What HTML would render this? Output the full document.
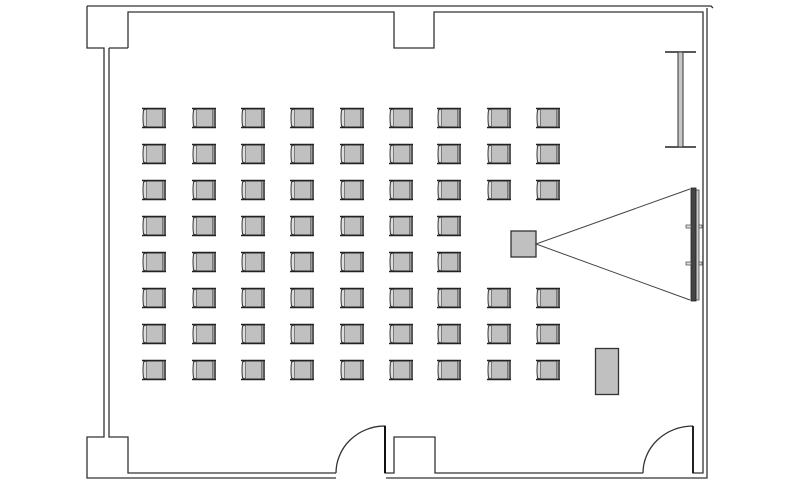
<!DOCTYPE html>
<html><head><style>html,body{margin:0;padding:0;background:#fff}svg{display:block}</style></head>
<body>
<svg width="800" height="490" viewBox="0 0 800 490" xmlns="http://www.w3.org/2000/svg">
<defs>
<g id="c">
<rect x="4" y="1" width="17" height="18" fill="#c0c0c0" stroke="#333" stroke-width="1"/>
<path d="M4 1 L1.5 2 Q0.5 10 1.5 18 L4 19" fill="#ddd" stroke="#333" stroke-width="1"/>
<line x1="0" y1="0.5" x2="24" y2="0.5" stroke="#222" stroke-width="1.6"/>
<line x1="0" y1="19.5" x2="24" y2="19.5" stroke="#222" stroke-width="1.6"/>
<line x1="23" y1="0" x2="23" y2="20" stroke="#222" stroke-width="1.5"/>
</g>
</defs>
<g fill="none" stroke="#333" stroke-width="1.3">
<!-- top outer -->
<path d="M87 6 H711 L713 8 M87 6 V48 H104 V437 H87 V478 H336"/>
<path d="M128 48 V12 H394 V48 H434 V12 H703 V473 H693 V426"/>
<path d="M109 48 V437 H128 V473 H336"/>
<path d="M128 48 H109"/>
<path d="M707 8 V478 H386"/>
<path d="M336 473 A49 47 0 0 1 385 426 V473 H394 V437 H435 V473 H643"/>
<path d="M643 473 A50 47 0 0 1 693 426"/>
</g>
<line x1="385" y1="426" x2="385" y2="473" stroke="#111" stroke-width="2"/>
<line x1="693" y1="426" x2="693" y2="473" stroke="#111" stroke-width="1.8"/>
<!-- whiteboard -->
<line x1="665" y1="52" x2="696" y2="52" stroke="#222" stroke-width="1.5"/>
<line x1="665" y1="147" x2="696" y2="147" stroke="#222" stroke-width="1.5"/>
<rect x="678" y="52" width="5" height="95" fill="#c8c8c8" stroke="#333" stroke-width="1"/>
<!-- projector -->
<rect x="511" y="231" width="25" height="26" fill="#c0c0c0" stroke="#333" stroke-width="1.3"/>
<path d="M690 189 L536 244 L690 300" fill="none" stroke="#444" stroke-width="1"/>
<rect x="696" y="190" width="3" height="110" fill="#ccc" stroke="#444" stroke-width="0.8"/>
<rect x="691" y="188" width="5" height="113" fill="#444" stroke="#222" stroke-width="0.8"/>
<rect x="686" y="225" width="5" height="3" fill="#ddd" stroke="#444" stroke-width="0.7"/>
<rect x="699" y="225" width="3" height="3" fill="#ddd" stroke="#444" stroke-width="0.7"/>
<rect x="686" y="262" width="5" height="3" fill="#ddd" stroke="#444" stroke-width="0.7"/>
<rect x="699" y="262" width="3" height="3" fill="#ddd" stroke="#444" stroke-width="0.7"/>
<!-- table -->
<rect x="595.5" y="348.5" width="23" height="46" fill="#c0c0c0" stroke="#333" stroke-width="1.3"/>
<!-- chairs -->
<g>
<use href="#c" x="142" y="108"/><use href="#c" x="192" y="108"/><use href="#c" x="241" y="108"/><use href="#c" x="290" y="108"/><use href="#c" x="340" y="108"/><use href="#c" x="389" y="108"/><use href="#c" x="437" y="108"/><use href="#c" x="487" y="108"/><use href="#c" x="536" y="108"/>
<use href="#c" x="142" y="144"/><use href="#c" x="192" y="144"/><use href="#c" x="241" y="144"/><use href="#c" x="290" y="144"/><use href="#c" x="340" y="144"/><use href="#c" x="389" y="144"/><use href="#c" x="437" y="144"/><use href="#c" x="487" y="144"/><use href="#c" x="536" y="144"/>
<use href="#c" x="142" y="180"/><use href="#c" x="192" y="180"/><use href="#c" x="241" y="180"/><use href="#c" x="290" y="180"/><use href="#c" x="340" y="180"/><use href="#c" x="389" y="180"/><use href="#c" x="437" y="180"/><use href="#c" x="487" y="180"/><use href="#c" x="536" y="180"/>
<use href="#c" x="142" y="216"/><use href="#c" x="192" y="216"/><use href="#c" x="241" y="216"/><use href="#c" x="290" y="216"/><use href="#c" x="340" y="216"/><use href="#c" x="389" y="216"/><use href="#c" x="437" y="216"/>
<use href="#c" x="142" y="252"/><use href="#c" x="192" y="252"/><use href="#c" x="241" y="252"/><use href="#c" x="290" y="252"/><use href="#c" x="340" y="252"/><use href="#c" x="389" y="252"/><use href="#c" x="437" y="252"/>
<use href="#c" x="142" y="288"/><use href="#c" x="192" y="288"/><use href="#c" x="241" y="288"/><use href="#c" x="290" y="288"/><use href="#c" x="340" y="288"/><use href="#c" x="389" y="288"/><use href="#c" x="437" y="288"/><use href="#c" x="487" y="288"/><use href="#c" x="536" y="288"/>
<use href="#c" x="142" y="324"/><use href="#c" x="192" y="324"/><use href="#c" x="241" y="324"/><use href="#c" x="290" y="324"/><use href="#c" x="340" y="324"/><use href="#c" x="389" y="324"/><use href="#c" x="437" y="324"/><use href="#c" x="487" y="324"/><use href="#c" x="536" y="324"/>
<use href="#c" x="142" y="360"/><use href="#c" x="192" y="360"/><use href="#c" x="241" y="360"/><use href="#c" x="290" y="360"/><use href="#c" x="340" y="360"/><use href="#c" x="389" y="360"/><use href="#c" x="437" y="360"/><use href="#c" x="487" y="360"/><use href="#c" x="536" y="360"/>
</g>
</svg>
</body></html>
